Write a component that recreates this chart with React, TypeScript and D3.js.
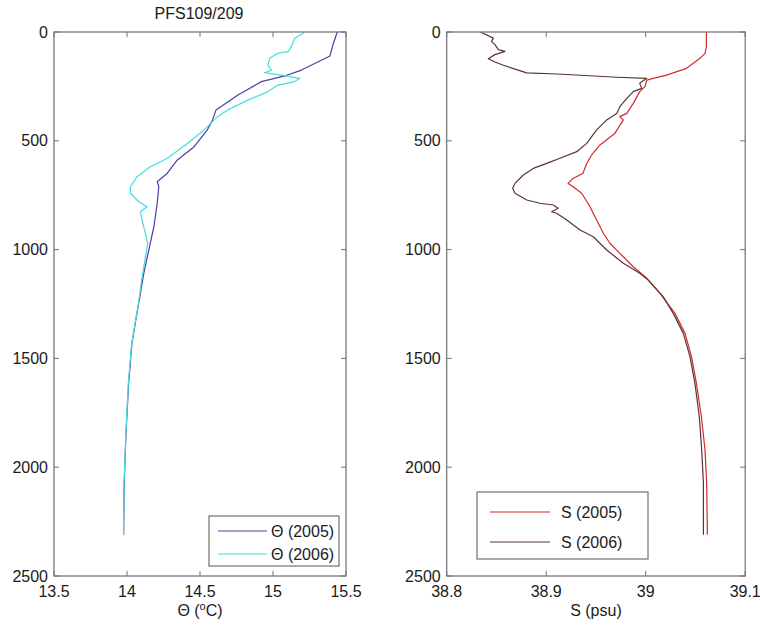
import React from "react";
import * as d3 from "d3";

const title = "PFS109/209";
const depthTicks = [0, 500, 1000, 1500, 2000, 2500];
const thetaTicks = [13.5, 14, 14.5, 15, 15.5];
const salTicks = [38.8, 38.9, 39, 39.1];

const theta2005Depth = [0, 60, 110, 175, 202, 228, 290, 358, 404, 450, 527, 588, 649, 688, 711, 787, 895, 1002, 1109, 1247, 1308, 1431, 1615, 1845, 2074, 2310];
const theta2005 = [15.44, 15.41, 15.39, 15.195, 15.08, 14.92, 14.76, 14.61, 14.586, 14.55, 14.46, 14.345, 14.276, 14.207, 14.218, 14.207, 14.184, 14.149, 14.115, 14.08, 14.064, 14.034, 14.011, 13.993, 13.981, 13.977];

const theta2006Depth = [0, 6, 29, 67, 90, 98, 121, 152, 175, 187, 198, 213, 228, 244, 274, 313, 358, 389, 450, 512, 580, 619, 665, 711, 741, 780, 803, 826, 864, 925, 971, 1079, 1140, 1250, 1431, 1615, 1845, 2074, 2310];
const theta2006 = [15.21, 15.207, 15.149, 15.126, 15.103, 15.034, 14.977, 14.966, 14.99, 14.942, 15.057, 15.183, 15.149, 15.034, 14.966, 14.828, 14.69, 14.62, 14.528, 14.414, 14.276, 14.16, 14.069, 14.023, 14.023, 14.08, 14.138, 14.092, 14.103, 14.126, 14.142, 14.115, 14.1, 14.078, 14.032, 14.009, 13.992, 13.98, 13.976];

const sal2005Depth = [0, 67, 98, 121, 167, 198, 213, 221, 251, 274, 328, 374, 389, 404, 466, 519, 565, 604, 649, 673, 696, 711, 741, 803, 864, 925, 971, 1017, 1079, 1132, 1201, 1293, 1385, 1492, 1615, 1768, 1921, 2074, 2310];
const sal2005 = [39.061, 39.061, 39.0596, 39.0546, 39.041, 39.021, 39.0076, 39.001, 38.9993, 38.994, 38.9875, 38.981, 38.974, 38.9775, 38.969, 38.954, 38.9457, 38.9407, 38.937, 38.927, 38.922, 38.927, 38.9357, 38.944, 38.9507, 38.9574, 38.964, 38.974, 38.9875, 39.001, 39.0144, 39.0294, 39.0395, 39.046, 39.051, 39.056, 39.0596, 39.0613, 39.062];

const sal2006Depth = [0, 28, 43, 58, 81, 89, 104, 123, 138, 153, 173, 188, 193, 201, 208, 213, 236, 259, 274, 305, 343, 374, 404, 450, 512, 550, 580, 604, 627, 657, 696, 718, 741, 772, 787, 795, 810, 826, 833, 864, 910, 941, 1002, 1063, 1109, 1140, 1217, 1293, 1385, 1492, 1615, 1768, 1921, 2074, 2310];
const sal2006 = [38.834, 38.8468, 38.845, 38.8485, 38.8519, 38.8586, 38.8485, 38.8418, 38.8485, 38.857, 38.8703, 38.8804, 38.9106, 38.944, 38.9709, 39.001, 38.994, 38.996, 38.9875, 38.981, 38.974, 38.9709, 38.9608, 38.9507, 38.9407, 38.9307, 38.9139, 38.9005, 38.887, 38.877, 38.8686, 38.8663, 38.8686, 38.8804, 38.8938, 38.9071, 38.912, 38.9055, 38.9105, 38.9206, 38.934, 38.9473, 38.9608, 38.9775, 38.994, 39.0026, 39.0177, 39.0277, 39.0378, 39.0445, 39.0495, 39.0539, 39.0563, 39.058, 39.058];

const FONT = "Liberation Sans, Arial, sans-serif";
const AXIS = "#707070";
const TEXT = "#1a1a1a";

type Series = { name: string; depth: number[]; vals: number[]; color: string };

function Panel(props: {
  x0: number; x1: number; y0: number; y1: number;
  domain: [number, number]; ticks: number[]; fmt: (v: number) => string;
  series: Series[]; xlabel: React.ReactNode;
  legend: { x: number; y: number; w: number; h: number; rows: number[]; lx0: number; lx1: number; tx: number };
}) {
  const { x0, x1, y0, y1, domain, ticks, series, legend } = props;
  const x = d3.scaleLinear().domain(domain).range([x0, x1]);
  const y = d3.scaleLinear().domain([0, 2500]).range([y0, y1]);
  const line = d3.line<[number, number]>().x((d) => x(d[0])).y((d) => y(d[1]));
  const tl = 5;
  return (
    <g fontFamily={FONT} fontSize={16} fill={TEXT}>
      <rect x={x0} y={y0} width={x1 - x0} height={y1 - y0} fill="#fff" stroke="none" />
      {series.map((s) => (
        <path key={s.name} d={line(s.vals.map((v, i) => [v, s.depth[i]] as [number, number])) || ""}
          fill="none" stroke={s.color} strokeWidth={1.2} strokeLinejoin="round" />
      ))}
      <rect x={x0} y={y0} width={x1 - x0} height={y1 - y0} fill="none" stroke={AXIS} strokeWidth={1.2} />
      {ticks.map((t) => (
        <g key={"x" + t}>
          <line x1={x(t)} x2={x(t)} y1={y1} y2={y1 - tl} stroke={AXIS} />
          <line x1={x(t)} x2={x(t)} y1={y0} y2={y0 + tl} stroke={AXIS} />
          <text x={x(t)} y={y1 + 21} textAnchor="middle">{props.fmt(t)}</text>
        </g>
      ))}
      {depthTicks.map((t) => (
        <g key={"y" + t}>
          <line x1={x0} x2={x0 + tl} y1={y(t)} y2={y(t)} stroke={AXIS} />
          <line x1={x1} x2={x1 - tl} y1={y(t)} y2={y(t)} stroke={AXIS} />
          <text x={x0 - 6} y={y(t)} dy="0.35em" textAnchor="end">{t}</text>
        </g>
      ))}
      <text x={(x0 + x1) / 2} y={616} textAnchor="middle">{props.xlabel}</text>
      <rect x={legend.x} y={legend.y} width={legend.w} height={legend.h} fill="#fff" stroke={AXIS} strokeWidth={1.2} />
      {series.map((s, i) => (
        <g key={"l" + s.name}>
          <line x1={legend.lx0} x2={legend.lx1} y1={legend.rows[i]} y2={legend.rows[i]} stroke={s.color} strokeWidth={1.2} />
          <text x={legend.tx} y={legend.rows[i]} dy="0.35em">{s.name}</text>
        </g>
      ))}
    </g>
  );
}

export default function App() {
  const fmt = (v: number) => String(v);
  return (
    <svg width={760} height={627} style={{ position: "absolute", left: 0, top: 0, background: "#fff" }}>
      <text x={199} y={19} textAnchor="middle" fontFamily={FONT} fontSize={16} fill={TEXT}>{title}</text>
      <Panel
        x0={54} x1={346} y0={32} y1={576}
        domain={[13.5, 15.5]} ticks={thetaTicks} fmt={fmt}
        series={[
          { name: "Θ (2005)", depth: theta2005Depth, vals: theta2005, color: "#4a3fa8" },
          { name: "Θ (2006)", depth: theta2006Depth, vals: theta2006, color: "#46dde0" },
        ]}
        xlabel={<>Θ (<tspan dy={-6} fontSize={11}>o</tspan><tspan dy={6}>C)</tspan></>}
        legend={{ x: 209, y: 516, w: 130, h: 50, rows: [531, 554], lx0: 218, lx1: 267, tx: 271 }}
      />
      <Panel
        x0={446.7} x1={745.2} y0={32} y1={576}
        domain={[38.8, 39.1]} ticks={salTicks} fmt={fmt}
        series={[
          { name: "S (2005)", depth: sal2005Depth, vals: sal2005, color: "#d42a2a" },
          { name: "S (2006)", depth: sal2006Depth, vals: sal2006, color: "#5a3434" },
        ]}
        xlabel="S (psu)"
        legend={{ x: 477, y: 492, w: 171, h: 67, rows: [512, 542], lx0: 490, lx1: 550, tx: 561 }}
      />
    </svg>
  );
}
